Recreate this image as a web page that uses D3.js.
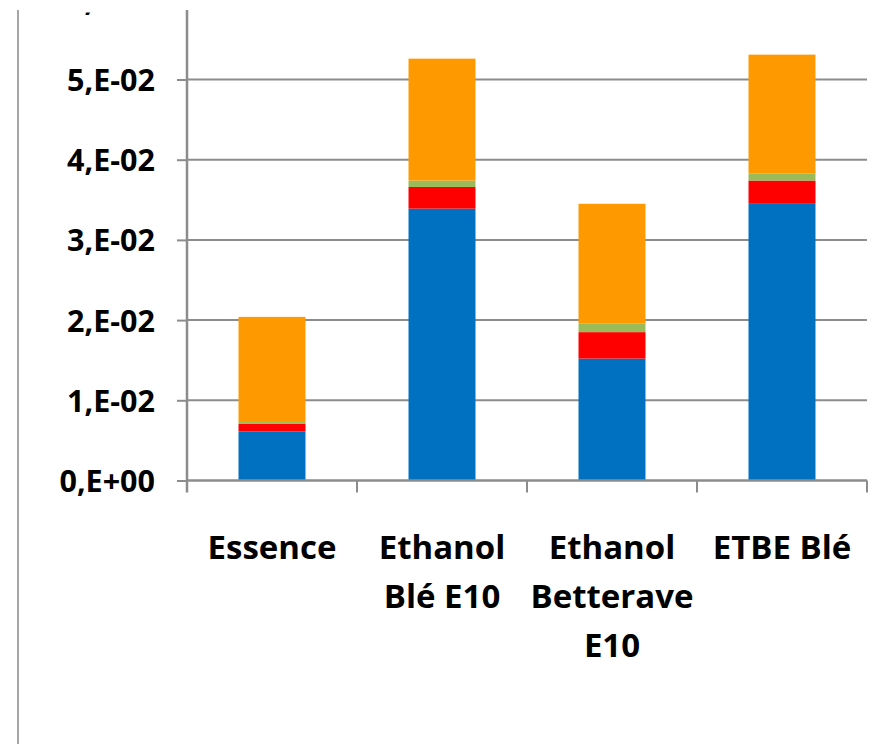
<!DOCTYPE html>
<html>
<head>
<meta charset="utf-8">
<script src="https://cdn.jsdelivr.net/npm/d3@7"></script>
<style>
  html, body { margin: 0; padding: 0; background: #fff; }
  svg { display: block; }
</style>
</head>
<body>
<div id="chart"></div>
<script>
// ---- Data ----
const categories = ["Essence", "Ethanol Blé E10", "Ethanol Betterave E10", "ETBE Blé"];
const categoryLines = [["Essence"], ["Ethanol", "Blé E10"], ["Ethanol", "Betterave", "E10"], ["ETBE Blé"]];
const seriesKeys = ["s1", "s2", "s3", "s4"];
const seriesColors = ["#0070C0", "#FF0000", "#9BBB59", "#FF9900"];
const s1Values = [0.0061, 0.0339, 0.0152, 0.0345];
const s2Values = [0.0010, 0.0027, 0.0033, 0.0029];
const s3Values = [0.0002, 0.0008, 0.0011, 0.0009];
const s4Values = [0.0131, 0.0152, 0.0149, 0.0148];
const yTickValues = [0, 0.01, 0.02, 0.03, 0.04, 0.05, 0.06];
const yTickLabels = ["0,E+00", "1,E-02", "2,E-02", "3,E-02", "4,E-02", "5,E-02", "6,E-02"];

const W = 887, H = 744;
const left = 187, right = 867, bottom = 480.5, clipTop = 10;

const rows = categories.map((c, i) => ({
  cat: c, s1: s1Values[i], s2: s2Values[i], s3: s3Values[i], s4: s4Values[i]
}));

const svg = d3.select("#chart").append("svg").attr("width", W).attr("height", H);
const g = svg.append("g");

const x = d3.scaleBand().domain(categories).range([left, right])
  .paddingInner(0.606).paddingOuter(0.303);
const y = d3.scaleLinear().domain([0, 0.06]).range([bottom, bottom - 481.2]);

// outer frame line on the left
g.append("line").attr("x1", 18).attr("x2", 18).attr("y1", clipTop).attr("y2", H)
  .attr("stroke", "#A6A6A6").attr("stroke-width", 2);

// gridlines + y axis
const yAxis = d3.axisLeft(y).tickValues(yTickValues)
  .tickFormat((d, i) => yTickLabels[i]).tickSize(10).tickPadding(22);
const ya = g.append("g").attr("transform", `translate(${left},0)`).call(yAxis);
ya.select(".domain").remove();
ya.selectAll(".tick line").attr("stroke", "#8C8C8C").attr("stroke-width", 2);
ya.selectAll(".tick text")
  .attr("font-family", "'Open Sans', sans-serif").attr("font-weight", 700)
  .attr("font-size", 30.5).attr("fill", "#000").attr("dy", "0.36em");

g.append("g").selectAll("line").data(yTickValues.filter(v => v > 0)).join("line")
  .attr("x1", left).attr("x2", right)
  .attr("y1", d => y(d)).attr("y2", d => y(d))
  .attr("stroke", "#8C8C8C").attr("stroke-width", 2);

// bars
const stacked = d3.stack().keys(seriesKeys)(rows);
g.append("g").selectAll("g").data(stacked).join("g")
  .attr("fill", (d, i) => seriesColors[i])
  .selectAll("rect").data(d => d).join("rect")
  .attr("x", d => x(d.data.cat))
  .attr("width", x.bandwidth())
  .attr("y", d => y(d[1]))
  .attr("height", d => y(d[0]) - y(d[1]));

// y axis line
g.append("line").attr("x1", left).attr("x2", left).attr("y1", clipTop).attr("y2", bottom + 12)
  .attr("stroke", "#8C8C8C").attr("stroke-width", 2.5);

// x axis line + ticks at band boundaries
g.append("line").attr("x1", left).attr("x2", right).attr("y1", bottom).attr("y2", bottom)
  .attr("stroke", "#8C8C8C").attr("stroke-width", 2.5);
const step = x.step();
const boundaries = d3.range(categories.length + 1).map(i => left + i * step);
g.append("g").selectAll("line").data(boundaries.slice(1)).join("line")
  .attr("x1", d => d).attr("x2", d => d).attr("y1", bottom).attr("y2", bottom + 12)
  .attr("stroke", "#8C8C8C").attr("stroke-width", 2);

// x labels
const xl = g.append("g").selectAll("text").data(categories).join("text")
  .attr("text-anchor", "middle")
  .attr("font-family", "'Open Sans', sans-serif").attr("font-weight", 700)
  .attr("font-size", 33).attr("fill", "#000")
  .attr("transform", d => `translate(${x(d) + x.bandwidth() / 2},559)`);
xl.selectAll("tspan").data((d, i) => categoryLines[i]).join("tspan")
  .attr("x", 0).attr("y", (d, i) => i * 49).text(d => d);

// top edge of the picture is cropped (only the comma of the top label shows)
svg.append("rect").attr("x", 0).attr("y", 0).attr("width", W).attr("height", clipTop)
  .attr("fill", "#fff");
svg.append("rect").attr("x", 30).attr("y", 0).attr("width", 145).attr("height", 12.5)
  .attr("fill", "#fff");
</script>
</body>
</html>
